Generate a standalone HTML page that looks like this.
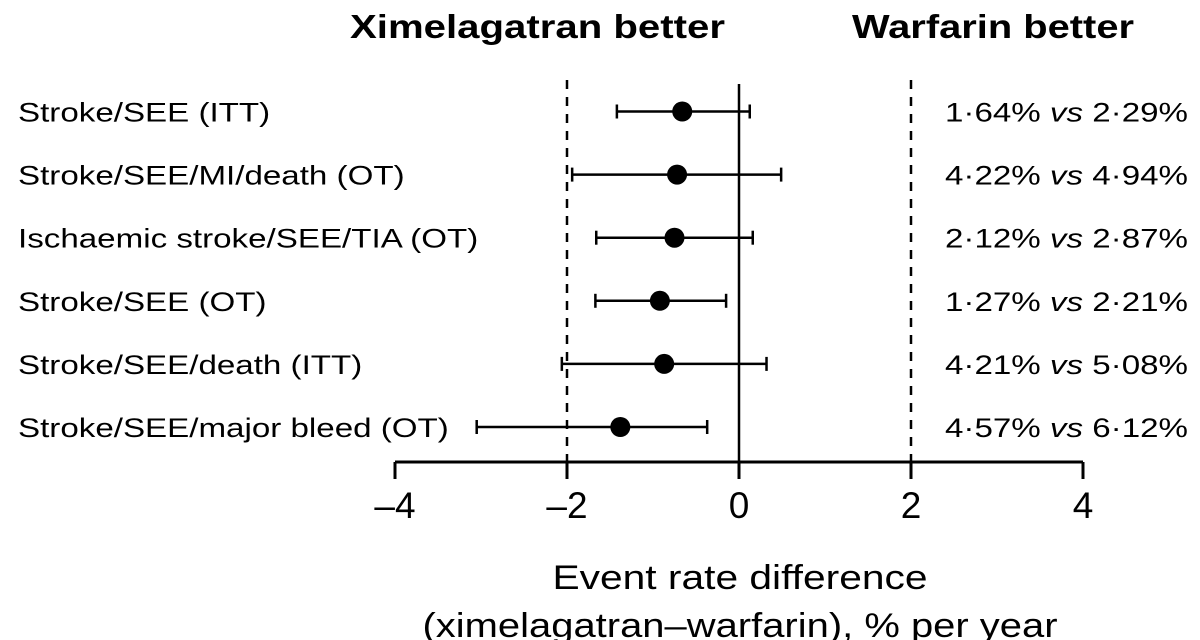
<!DOCTYPE html>
<html><head><meta charset="utf-8"><style>
html,body{margin:0;padding:0;background:#fff;width:1200px;height:640px;overflow:hidden}
text{font-family:"Liberation Sans",sans-serif;fill:#000}
</style></head><body>
<svg id="chart" width="1200" height="640" viewBox="0 0 1200 640" xmlns="http://www.w3.org/2000/svg">
<text x="350" y="38" font-size="33" font-weight="bold" textLength="375" lengthAdjust="spacingAndGlyphs">Ximelagatran better</text>
<text x="852" y="38" font-size="33" font-weight="bold" textLength="282" lengthAdjust="spacingAndGlyphs">Warfarin better</text>
<g id="plot"></g>
<text x="740" y="589" font-size="34" text-anchor="middle" textLength="375" lengthAdjust="spacingAndGlyphs">Event rate difference</text>
<text x="740" y="637" font-size="34" text-anchor="middle" textLength="635" lengthAdjust="spacingAndGlyphs">(ximelagatran–warfarin), % per year</text>
</svg>
<script>
const labels = ["Stroke/SEE (ITT)","Stroke/SEE/MI/death (OT)","Ischaemic stroke/SEE/TIA (OT)","Stroke/SEE (OT)","Stroke/SEE/death (ITT)","Stroke/SEE/major bleed (OT)"];
const estimates = [-0.66,-0.72,-0.75,-0.92,-0.87,-1.38];
const lower = [-1.42,-1.94,-1.66,-1.67,-2.06,-3.05];
const upper = [0.125,0.49,0.16,-0.15,0.32,-0.37];
const rateX = ["1·64%","4·22%","2·12%","1·27%","4·21%","4·57%"];
const rateW = ["2·29%","4·94%","2·87%","2·21%","5·08%","6·12%"];
const ticks = [-4,-2,0,2,4];
const tickLabels = ["–4","–2","0","2","4"];
const dashedRefs = [-2,2];

const NS="http://www.w3.org/2000/svg";
const g=document.getElementById('plot');
const xs=v=>739+v*86;
const ys=i=>111.5+i*63.1;
const axisY=462;
function el(t,a){const e=document.createElementNS(NS,t);for(const k in a)e.setAttribute(k,a[k]);g.appendChild(e);return e;}
function stretch(t,f){const w=t.getComputedTextLength();t.setAttribute('textLength',w*f);t.setAttribute('lengthAdjust','spacingAndGlyphs');}

dashedRefs.forEach(v=>{
  const l=el('line',{x1:xs(v),x2:xs(v),y1:80,y2:axisY,stroke:'#000','stroke-width':2.5,'stroke-dasharray':'9 8'});
  
  
});
const z=el('line',{x1:xs(0),x2:xs(0),y1:84,y2:axisY,stroke:'#000','stroke-width':2.5});


const ax=el('line',{x1:xs(-4),x2:xs(4),y1:axisY,y2:axisY,stroke:'#000','stroke-width':3});


ticks.forEach((v,i)=>{
  const t=el('line',{x1:xs(v),x2:xs(v),y1:axisY,y2:479,stroke:'#000','stroke-width':3});
  
  
  const tl=el('text',{x:xs(v),y:518,'font-size':37,'text-anchor':'middle'});
  tl.textContent=tickLabels[i];
  
  
});
labels.forEach((lab,i)=>{
  const y=ys(i);
  const t=el('text',{x:18,y:y+10,'font-size':27});
  t.textContent=lab;
  
  
  stretch(t,1.227);
  const ci=el('line',{x1:xs(lower[i]),x2:xs(upper[i]),y1:y,y2:y,stroke:'#000','stroke-width':2.5});
  
  
  [lower[i],upper[i]].forEach(v=>{
    const c=el('line',{x1:xs(v),x2:xs(v),y1:y-7,y2:y+7,stroke:'#000','stroke-width':2.5});
    
    
  });
  const d=el('circle',{cx:xs(estimates[i]),cy:y,r:10,fill:'#000'});
  
  
  const r=el('text',{x:945,y:y+10,'font-size':27});
  r.innerHTML=rateX[i]+' <tspan font-style="italic">vs</tspan> '+rateW[i];
  
  
  r.setAttribute('textLength',243);
  r.setAttribute('lengthAdjust','spacingAndGlyphs');
});
</script>
</body></html>
